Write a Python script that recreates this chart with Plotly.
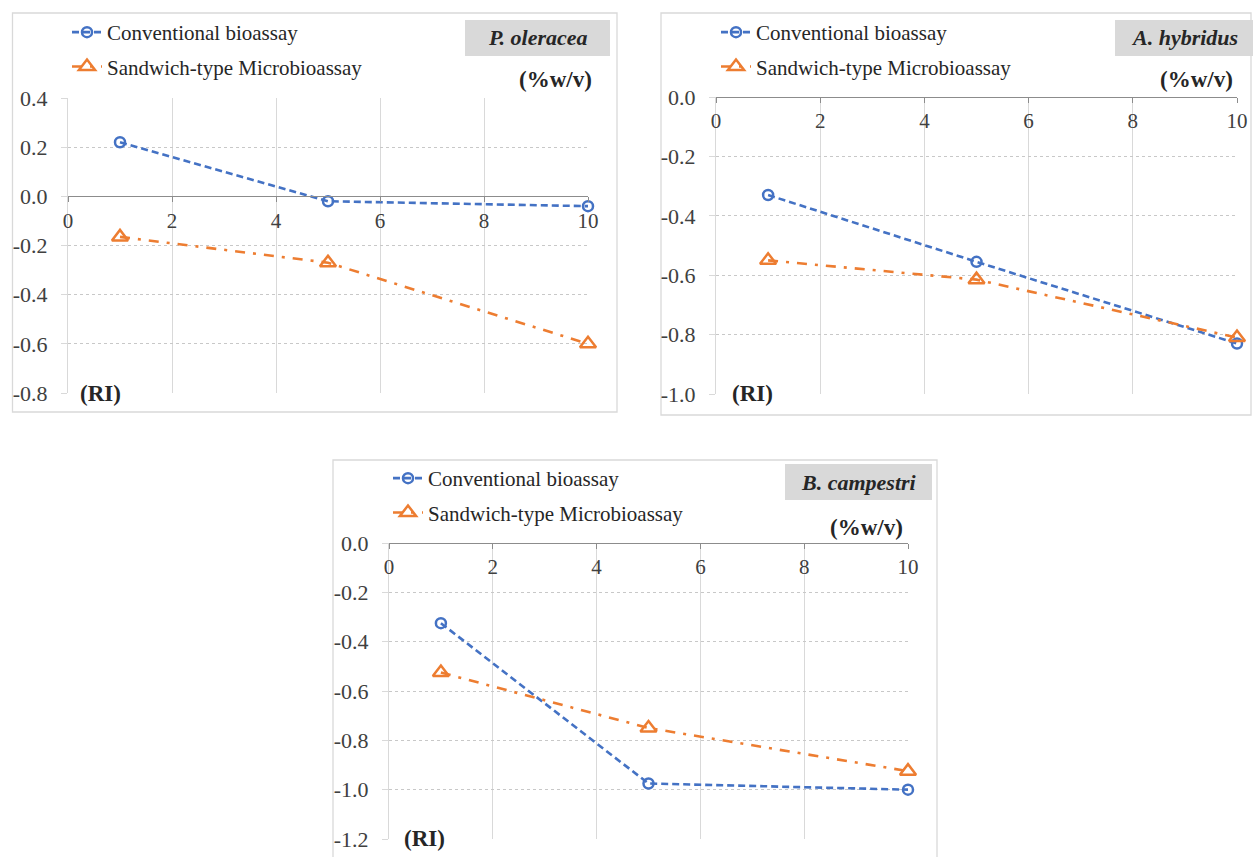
import plotly.graph_objects as go

W, H = 1253, 857

# ---------------- data ----------------
conc = [1, 5, 10]
series_names = ["Conventional bioassay", "Sandwich-type Microbioassay"]

p_oleracea_conv = [0.22, -0.02, -0.04]
p_oleracea_sand = [-0.165, -0.27, -0.60]

a_hybridus_conv = [-0.33, -0.555, -0.83]
a_hybridus_sand = [-0.55, -0.615, -0.81]

b_campestri_conv = [-0.325, -0.975, -1.0]
b_campestri_sand = [-0.525, -0.75, -0.925]

x_ticks = [0, 2, 4, 6, 8, 10]
y_ticks1 = [0.4, 0.2, 0.0, -0.2, -0.4, -0.6, -0.8]
y_ticks2 = [0.0, -0.2, -0.4, -0.6, -0.8, -1.0]
y_ticks3 = [0.0, -0.2, -0.4, -0.6, -0.8, -1.0, -1.2]

panel_titles = ["P. oleracea", "A. hybridus", "B. campestri"]
x_unit = "(%w/v)"
y_unit = "(RI)"

# ---------------- helpers ----------------
def px(x):
    return x / W

def py(y):
    return 1 - y / H

BLUE = "#4472C4"
ORANGE = "#ED7D31"
GRID = "#d9d9d9"
AXIS = "#8c8c8c"
FONT = "Liberation Serif, Times New Roman, serif"

panels = [
    dict(conv=p_oleracea_conv, sand=p_oleracea_sand, yt=y_ticks1, yr=[-0.8, 0.4],
         area=(68, 588, 98, 393), frame=(12.5, 13, 617, 412),
         leg=(67, 12), box=(465, 20, 610, 56), unit=(555, 80), ri=(101, 393)),
    dict(conv=a_hybridus_conv, sand=a_hybridus_sand, yt=y_ticks2, yr=[-1.0, 0.0],
         area=(716, 1237, 97, 394), frame=(661, 13, 1251, 415),
         leg=(716, 12), box=(1115, 20, 1253, 56), unit=(1196, 80), ri=(752, 393)),
    dict(conv=b_campestri_conv, sand=b_campestri_sand, yt=y_ticks3, yr=[-1.2, 0.0],
         area=(389, 908, 543, 839), frame=(333, 460, 937, 860),
         leg=(388, 458), box=(785, 464, 932, 500), unit=(866, 527), ri=(424, 838)),
]

fig = go.Figure()
shapes = []
annotations = []
layout_extra = {}

for i, p in enumerate(panels):
    n = "" if i == 0 else str(i + 1)
    leg = "legend" if i == 0 else f"legend{i + 1}"
    l, r, t, b = p["area"]
    ydom = [py(b), py(t)]
    ymin, ymax = p["yr"]
    zero_pos = ydom[0] + (0 - ymin) / (ymax - ymin) * (ydom[1] - ydom[0])

    fig.add_trace(go.Scatter(
        x=conc, y=p["conv"], name=series_names[0], mode="lines+markers",
        line=dict(color=BLUE, width=2.6, dash="7px,4px"),
        marker=dict(symbol="circle-open", size=10, color=BLUE, line=dict(width=2.5, color=BLUE)),
        xaxis="x" + n, yaxis="y" + n, legend=leg, legendgroup=f"c{i}", cliponaxis=False))
    fig.add_trace(go.Scatter(
        x=conc, y=p["sand"], name=series_names[1], mode="lines+markers",
        line=dict(color=ORANGE, width=2.6, dash="10px,8px,3px,8px"),
        marker=dict(symbol="triangle-up-open", size=14, color=ORANGE, line=dict(width=2.5, color=ORANGE)),
        xaxis="x" + n, yaxis="y" + n, legend=leg, legendgroup=f"s{i}", cliponaxis=False))

    layout_extra["xaxis" + n] = dict(
        domain=[px(l), px(r)], range=[0, 10], anchor="free", position=zero_pos,
        automargin=False,
        tickvals=x_ticks, ticktext=[str(v) for v in x_ticks],
        showgrid=True, gridcolor=GRID, gridwidth=1, zeroline=False,
        showline=True, linecolor=AXIS, linewidth=1.3,
        ticks="outside", ticklen=5, tickcolor=AXIS,
        tickfont=dict(family=FONT, size=21, color="#404040"),
    )
    layout_extra["yaxis" + n] = dict(
        domain=ydom, range=p["yr"], anchor="x" + n, automargin=False,
        tickvals=p["yt"], ticktext=[f"{v:.1f}" for v in p["yt"]],
        showgrid=True, gridcolor="#c8c8c8", gridwidth=1, griddash="dot", zeroline=False,
        showline=True, linecolor=GRID, linewidth=1,
        ticks="outside", ticklen=6, tickcolor=GRID, ticklabelstandoff=9,
        tickfont=dict(family=FONT, size=22, color="#404040"),
    )
    layout_extra[leg] = dict(
        x=px(p["leg"][0]), y=py(p["leg"][1]), xanchor="left", yanchor="top",
        bgcolor="rgba(0,0,0,0)", font=dict(family=FONT, size=21, color="#262626"),
        traceorder="grouped", tracegroupgap=4,
    )

    fl, ft, fr, fb = p["frame"]
    shapes.append(dict(type="rect", xref="paper", yref="paper",
                       x0=px(fl), x1=px(fr), y0=py(fb), y1=py(ft),
                       line=dict(color=GRID, width=1.3), fillcolor="rgba(0,0,0,0)", layer="below"))
    bl, bt, br, bb = p["box"]
    shapes.append(dict(type="rect", xref="paper", yref="paper",
                       x0=px(bl), x1=px(br), y0=py(bb), y1=py(bt),
                       line=dict(width=0), fillcolor="#d9d9d9", layer="above"))
    annotations.append(dict(
        text=f"<b><i>{panel_titles[i]}</i></b>", xref="paper", yref="paper",
        x=px((bl + br) / 2), y=py((bt + bb) / 2), xanchor="center", yanchor="middle",
        showarrow=False, font=dict(family=FONT, size=22, color="#262626")))
    annotations.append(dict(
        text=f"<b>{x_unit}</b>", xref="paper", yref="paper",
        x=px(p["unit"][0]), y=py(p["unit"][1]), xanchor="center", yanchor="middle",
        showarrow=False, font=dict(family=FONT, size=23, color="#262626")))
    annotations.append(dict(
        text=f"<b>{y_unit}</b>", xref="paper", yref="paper",
        x=px(p["ri"][0]), y=py(p["ri"][1]), xanchor="center", yanchor="middle",
        showarrow=False, bgcolor="white", font=dict(family=FONT, size=23, color="#262626")))

fig.update_layout(
    width=W, height=H, margin=dict(l=0, r=0, t=0, b=0, pad=0, autoexpand=False),
    paper_bgcolor="white", plot_bgcolor="rgba(0,0,0,0)",
    shapes=shapes, annotations=annotations, **layout_extra,
)

fig.write_html(
    "out.html",
    config={"displayModeBar": False},
    post_script="document.body.style.margin='0';document.body.style.overflow='hidden';",
)
